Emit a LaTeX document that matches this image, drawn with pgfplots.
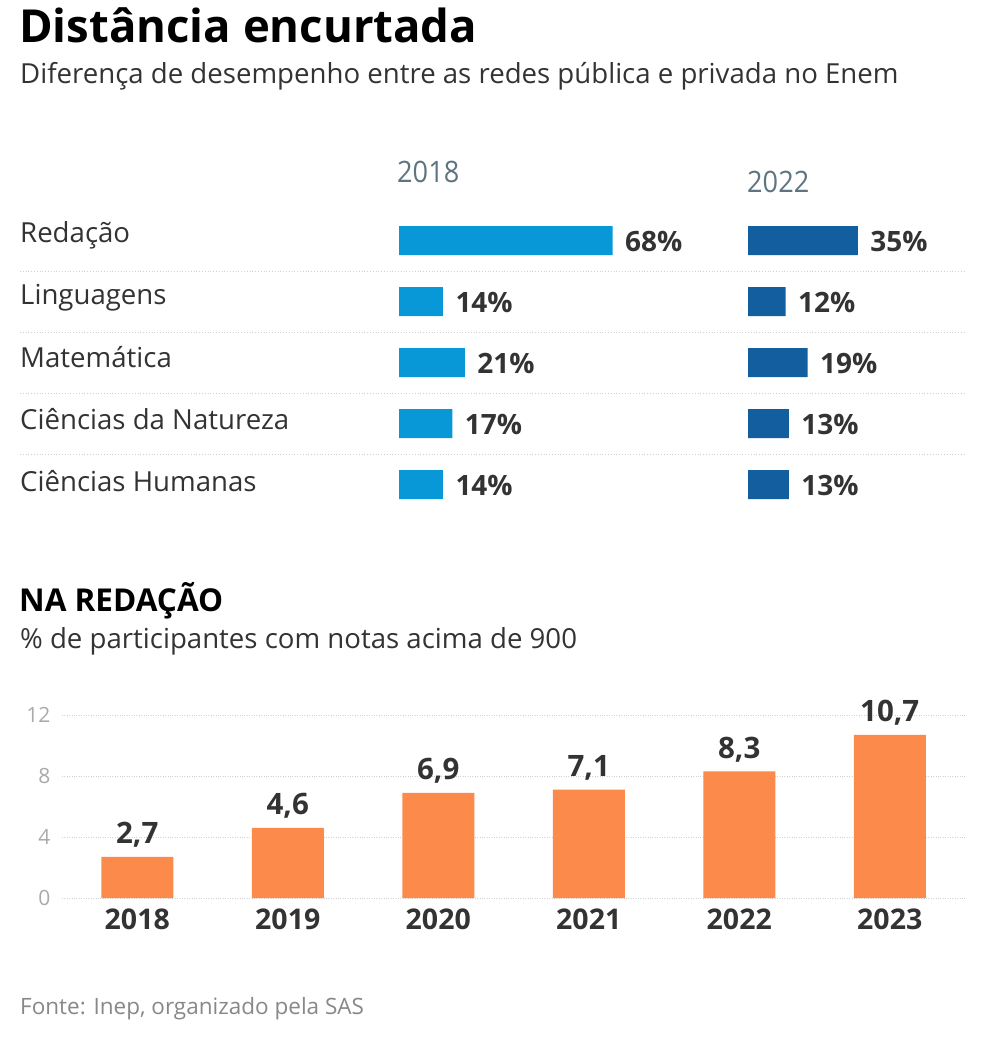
\documentclass[border=0pt]{standalone}
\usepackage{fontspec}
\setmainfont{Open Sans}
\newfontfamily\condfont[FakeStretch=0.92]{Open Sans}
\usepackage{pgfplots}
\pgfplotsset{compat=1.18}
\definecolor{lblue}{HTML}{0898D8}
\definecolor{dblue}{HTML}{135E9E}
\definecolor{orangebar}{HTML}{FC8A4B}
\definecolor{darktext}{HTML}{333333}
\definecolor{yeargray}{HTML}{5E7480}
\definecolor{ticgray}{HTML}{AAAAAA}
\definecolor{sepgray}{HTML}{D0D0D0}
\definecolor{srcgray}{HTML}{888888}
\begin{document}
\begin{tikzpicture}
\useasboundingbox (0,0) rectangle (984pt,-1040pt);
\fill[white] (0,0) rectangle (984pt,-1040pt);
% titles
\node[anchor=base west, inner sep=0, font=\fontsize{45.5}{54}\selectfont\bfseries, text=black] at (19pt,-43pt) {Distância encurtada};
\node[anchor=base west, inner sep=0, font=\fontsize{27.6}{33}\selectfont, text=darktext] at (20pt,-84pt) {Diferença de desempenho entre as redes pública e privada no Enem};
% year headers
\node[anchor=base west, inner sep=0, font=\condfont\fontsize{29.5}{34}\selectfont, text=yeargray] at (397pt,-183pt) {2018};
\node[anchor=base west, inner sep=0, font=\condfont\fontsize{29.5}{34}\selectfont, text=yeargray] at (747pt,-193pt) {2022};
% category labels
\foreach \lab [count=\i from 0] in {Redação,Linguagens,Matemática,Ciências da Natureza,Ciências Humanas}{
  \node[anchor=base west, inner sep=0, font=\fontsize{27.6}{33}\selectfont, text=darktext] at (20pt,{-(243+62*\i)*1pt}) {\lab};
}
% separators
\foreach \y in {271,332,393,454}{
  \draw[sepgray, dotted, line width=0.8pt] (20pt,{-\y*1pt}) -- (965pt,{-\y*1pt});
}
% 2018 bars
\begin{axis}[at={(399pt,-210pt)}, anchor=north west, scale only axis,
  width=314pt, height=305pt, xmin=0, xmax=100, ymin=-0.5, ymax=4.5, y dir=reverse,
  xbar, bar width=29pt, axis lines=none, xtick=\empty, ytick=\empty, clip=false,
  point meta=x,
  nodes near coords={\pgfmathprintnumber[assume math mode=true]{\pgfplotspointmeta}\%},
  nodes near coords style={font=\fontsize{28}{33}\selectfont\bfseries, text=darktext, anchor=west, xshift=9pt, yshift=-1pt}]
\addplot[fill=lblue, draw=none] coordinates {(68,0) (14,1) (21,2) (17,3) (14,4)};
\end{axis}
% 2022 bars
\begin{axis}[at={(748pt,-210pt)}, anchor=north west, scale only axis,
  width=314pt, height=305pt, xmin=0, xmax=100, ymin=-0.5, ymax=4.5, y dir=reverse,
  xbar, bar width=29pt, axis lines=none, xtick=\empty, ytick=\empty, clip=false,
  point meta=x,
  nodes near coords={\pgfmathprintnumber[assume math mode=true]{\pgfplotspointmeta}\%},
  nodes near coords style={font=\fontsize{28}{33}\selectfont\bfseries, text=darktext, anchor=west, xshift=9pt, yshift=-1pt}]
\addplot[fill=dblue, draw=none] coordinates {(35,0) (12,1) (19,2) (13,3) (13,4)};
\end{axis}
% second section titles
\node[anchor=base west, inner sep=0, font=\fontsize{31.5}{38}\selectfont\bfseries, text=black] at (19pt,-611pt) {NA REDAÇÃO};
\node[anchor=base west, inner sep=0, font=\fontsize{27.6}{33}\selectfont, text=darktext] at (20pt,-648pt) {\% de participantes com notas acima de 900};
% vertical bars
\begin{axis}[at={(62pt,-898pt)}, anchor=south west, scale only axis,
  width=903pt, height=183pt, xmin=-0.5, xmax=5.5, ymin=0, ymax=12,
  ybar, bar width=72pt, axis line style={draw=none}, major tick length=0pt,
  xtick={0,1,2,3,4,5}, xticklabels={2018,2019,2020,2021,2022,2023},
  ytick={0,4,8,12}, ymajorgrids, grid style={sepgray, dotted, line width=0.8pt},
  /pgf/number format/assume math mode=true,
  xticklabel style={font=\fontsize{28.5}{34}\selectfont\bfseries, text=darktext, yshift=-7pt},
  yticklabel style={font=\fontsize{21}{25}\selectfont, text=ticgray, xshift=-8pt},
  clip=false, point meta=y,
  nodes near coords={\pgfmathprintnumber[fixed, fixed zerofill, precision=1, use comma, assume math mode=true]{\pgfplotspointmeta}},
  nodes near coords style={font=\fontsize{29.5}{35}\selectfont\bfseries, text=darktext, anchor=south, yshift=6pt}]
\addplot[fill=orangebar, draw=none] coordinates {(0,2.7) (1,4.6) (2,6.9) (3,7.1) (4,8.3) (5,10.7)};
\end{axis}
% source
\node[anchor=base west, inner sep=0, font=\fontsize{22.5}{27}\selectfont, text=srcgray] at (20pt,-1014pt) {Fonte: Inep, organizado pela SAS};
\end{tikzpicture}
\end{document}
